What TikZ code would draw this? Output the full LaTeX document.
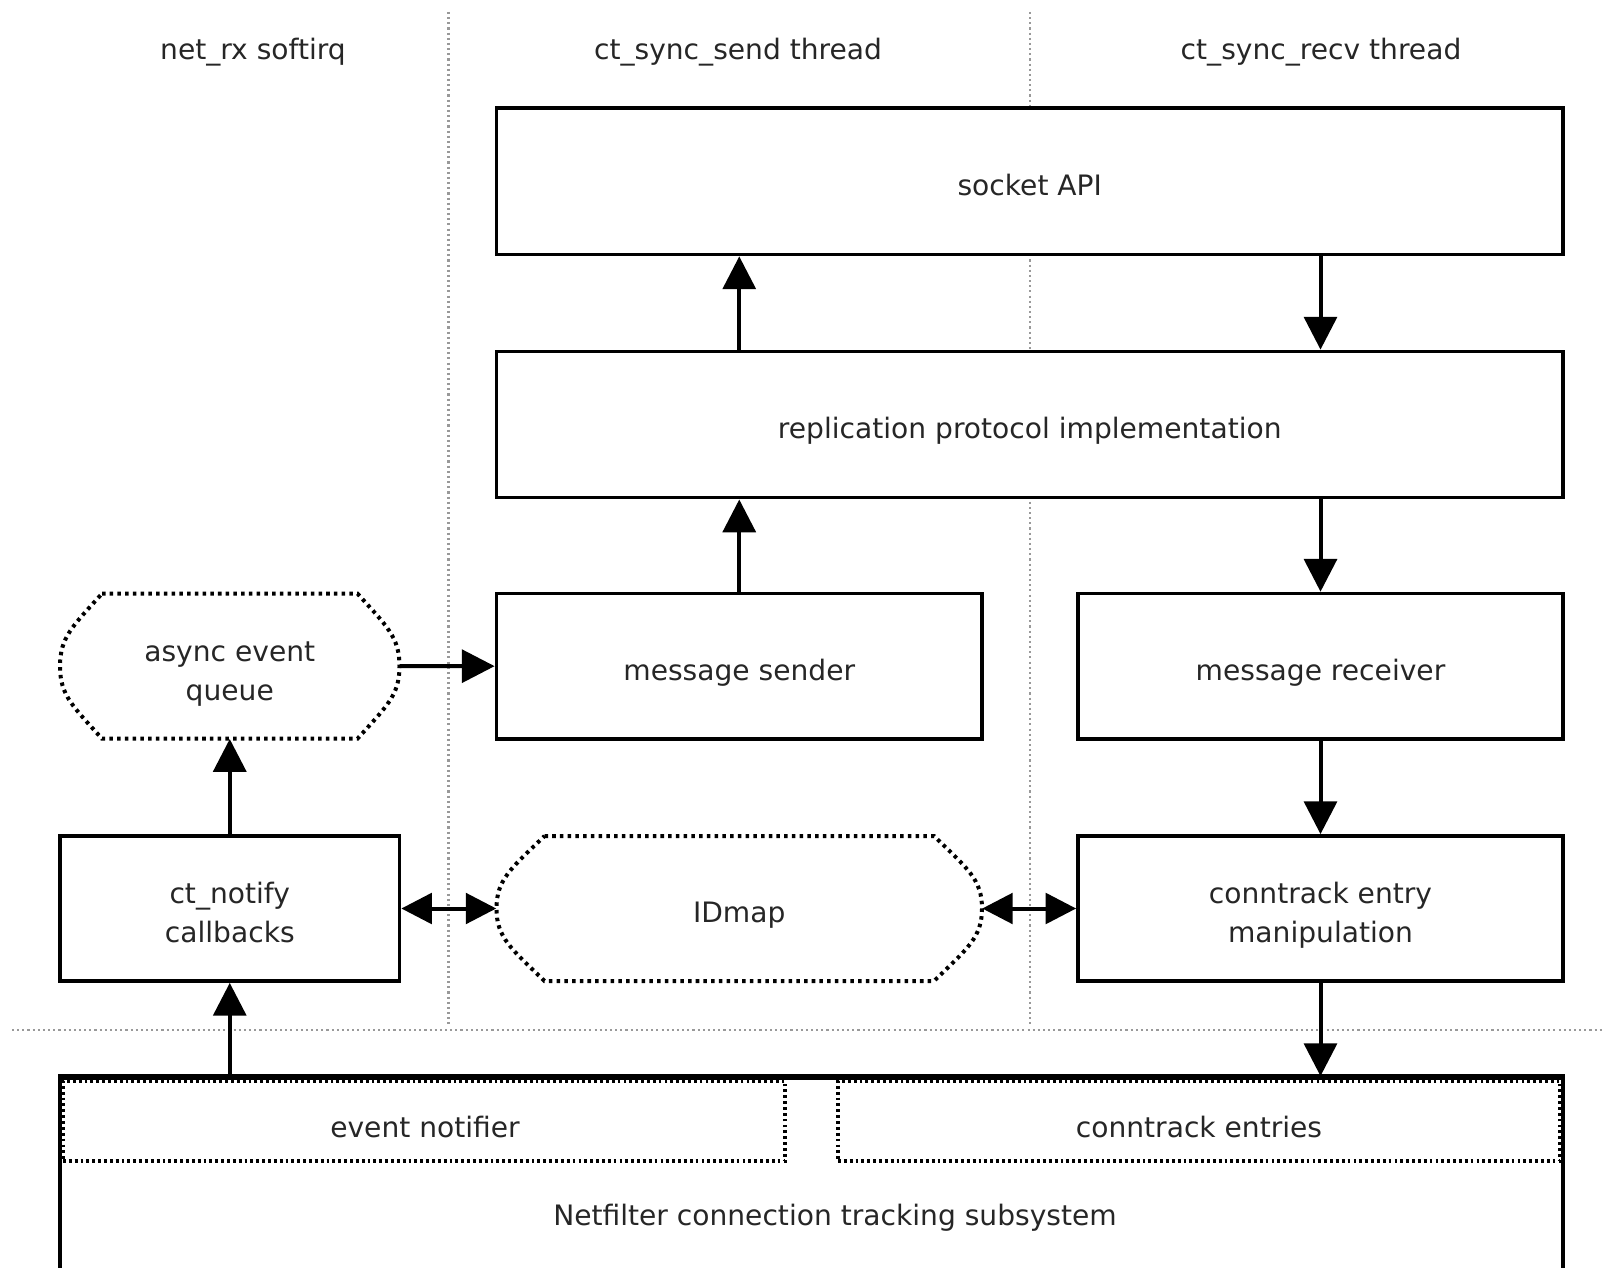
\documentclass[tikz,border=0pt]{standalone}
\usepackage{fontspec}
\setmainfont{DejaVu Sans}
\usetikzlibrary{arrows.meta}
\newlength\pxu
\setlength\pxu{0.03cm}
\tikzset{
  lbl/.style={font=\fontsize{24}{33}\selectfont, text=black!85, align=center},
  one/.style={text height=24pt, text depth=0pt},
  two/.style={text height=58pt, text depth=0pt},
  box/.style={lbl, draw=black, line width=3.2pt, fill=white, inner sep=0pt},
  plain/.style={lbl, inner sep=0pt},
  dotbox/.style={lbl, draw=black, line width=3pt, dash pattern=on 2.4pt off 2.6pt, inner sep=0pt},
  hexline/.style={draw=black, line width=3.4pt, dash pattern=on 3pt off 3.6pt, fill=white},
  sep/.style={draw=black!40, line width=1.8pt, dash pattern=on 1.8pt off 2.6pt},
  conn/.style={line width=3.4pt, -{Triangle[length=28pt,width=28pt]}},
  conn2/.style={line width=3.4pt, {Triangle[length=26pt,width=26pt]}-{Triangle[length=26pt,width=26pt]}},
}
\begin{document}
\begin{tikzpicture}[x=0.03cm, y=-0.03cm]
\useasboundingbox (0,0) rectangle (1602,1268);
\clip (0,0) rectangle (1602,1268);
% lane separators
\draw[sep] (448.5,12) -- (448.5,1025);
\draw[sep] (1030,12) -- (1030,1025);
\draw[sep] (12,1030) -- (1602,1030);
% headers
\node[plain, one] (h1) at (253,45) {net\_rx softirq};
\node[plain, one] (h2) at (738,45) {ct\_sync\_send thread};
\node[plain, one] (h3) at (1321,45) {ct\_sync\_recv thread};
% boxes
\node[box, one, minimum width=1066.5\pxu, minimum height=146.5\pxu] (sa) at (1029.75,181.25) {socket API};
\node[box, one, minimum width=1066.5\pxu, minimum height=146.1\pxu] (rp) at (1029.75,424.55) {replication protocol implementation};
\node[box, one, minimum width=485.5\pxu, minimum height=145.1\pxu] (ms) at (739.25,666.15) {message sender};
\node[box, one, minimum width=485\pxu, minimum height=145.1\pxu] (mr) at (1320.5,666.15) {message receiver};
\node[box, two, minimum width=339.5\pxu, minimum height=145\pxu] (cn) at (229.75,908.5) {ct\_notify\\callbacks};
\node[box, two, minimum width=485\pxu, minimum height=145\pxu] (ce) at (1320.5,908.5) {conntrack entry\\manipulation};
% async event queue
\path[hexline] (102,593.6) -- (357.5,593.6) .. controls (386.9,626.3) and (399.5,637.2) .. (399.5,666.2)
  .. controls (399.5,695.2) and (386.9,706) .. (357.5,738.7) -- (102,738.7)
  .. controls (72.6,706) and (60,695.2) .. (60,666.2)
  .. controls (60,637.2) and (72.6,626.3) .. (102,593.6) -- cycle;
\node[plain, two, minimum width=339.5\pxu, minimum height=145.1\pxu] (aq) at (229.75,666.2) {async event\\queue};
% IDmap
\path[hexline] (544.5,836) -- (934,836) .. controls (967.6,868.6) and (982,879.5) .. (982,908.5)
  .. controls (982,937.5) and (967.6,948.4) .. (934,981) -- (544.5,981)
  .. controls (510.9,948.4) and (496.5,937.5) .. (496.5,908.5)
  .. controls (496.5,879.5) and (510.9,868.6) .. (544.5,836) -- cycle;
\node[plain, one, minimum width=485.5\pxu, minimum height=145\pxu] (id) at (739.25,908.5) {IDmap};
% netfilter
\node[box, minimum width=1503\pxu, minimum height=222\pxu] (nf) at (811.5,1189) {};
\node[dotbox, minimum width=722\pxu, minimum height=80\pxu] (en) at (424,1121) {};
\node[plain, one] (ent) at (425,1123) {event notifier};
\node[dotbox, minimum width=722\pxu, minimum height=80\pxu] (cte) at (1199,1121) {};
\node[plain, one] (ctt) at (1199,1123) {conntrack entries};
\draw[line width=3.2pt] (nf.north west) -- (nf.north east);
\node[plain, one] (nft) at (835,1211) {Netfilter connection tracking subsystem};
% connectors
\draw[conn] (rp.north -| ms.north) -- (sa.south -| ms.north);
\draw[conn] (sa.south -| mr.north) -- (rp.north -| mr.north);
\draw[conn] (ms.north) -- (rp.south -| ms.north);
\draw[conn] (rp.south -| mr.north) -- (mr.north);
\draw[conn] (aq.east) -- (ms.west);
\draw[conn] (cn.north) -- (aq.south);
\draw[conn] (mr.south) -- (ce.north);
\draw[conn2] (cn.east) -- (id.west);
\draw[conn2] (id.east) -- (ce.west);
\draw[conn] (nf.north -| cn.south) -- (cn.south);
\draw[conn] (ce.south) -- (nf.north -| ce.south);
\end{tikzpicture}
\end{document}
